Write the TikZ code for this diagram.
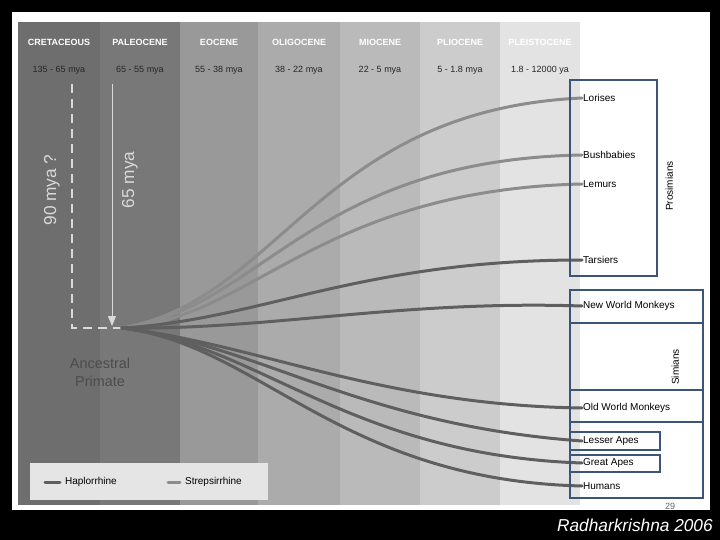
\documentclass[tikz,border=0pt]{standalone}
\usepackage{fontspec}
\setmainfont{Liberation Sans}
\usetikzlibrary{arrows.meta}
\definecolor{boxblue}{RGB}{60,84,120}
\tikzset{every picture/.style={line width=0.75pt}}
\tikzset{
  era/.style={font=\bfseries\small, text=white, inner sep=0.75pt},
  age/.style={font=\small, text=black!85, inner sep=0.75pt},
  haplo/.style={color={rgb, 255:red, 95; green, 95; blue, 95}, line width=3pt, line cap=round},
  strep/.style={color={rgb, 255:red, 140; green, 140; blue, 140}, line width=3pt, line cap=round},
  taxon/.style={anchor=west, font=\normalsize, inner sep=0.75pt},
  group/.style={draw=boxblue, line width=2pt}
}
\begin{document}
\begin{tikzpicture}[x=1pt,y=1pt,yscale=-1,xscale=1]
\useasboundingbox (0,0) rectangle (720,540);
\fill[black] (0,0) rectangle (720,540);
\fill[white] (12,12) rectangle (710,510);

%Bands
\fill[black!57] (18,22) rectangle (100,505);
\fill[black!53] (100,22) rectangle (180,505);
\fill[black!40] (180,22) rectangle (258,505);
\fill[black!33] (258,22) rectangle (340,505);
\fill[black!27] (340,22) rectangle (420,505);
\fill[black!20] (420,22) rectangle (500,505);
\fill[black!11] (500,22) rectangle (580,505);

% Text Node
\node[era] (cre) at (59,42) {CRETACEOUS};
\node[era] (pal) at (140,42) {PALEOCENE};
\node[era] (eoc) at (219,42) {EOCENE};
\node[era] (oli) at (299,42) {OLIGOCENE};
\node[era] (mio) at (380,42) {MIOCENE};
\node[era] (pli) at (460,42) {PLIOCENE};
\node[era] (ple) at (540,42) {PLEISTOCENE};
\node[age] (acre) at (59,70) {135 - 65 mya};
\node[age] (apal) at (140,70) {65 - 55 mya};
\node[age] (aeoc) at (219,70) {55 - 38 mya};
\node[age] (aoli) at (299,70) {38 - 22 mya};
\node[age] (amio) at (380,70) {22 - 5 mya};
\node[age] (apli) at (460,70) {5 - 1.8 mya};
\node[age] (aple) at (540,70) {1.8 - 12000 ya};

%Origin arrows
\coordinate (root) at (122,328);
\coordinate (d0) at (72,84);
\coordinate (d1) at (72,328);
\coordinate (s0) at (112,84);
\draw[black!15, line width=1.5pt, dash pattern=on 9pt off 6pt] (d0) -- (d1) -- (root);
\draw[black!15, line width=1pt, -{Triangle[width=8pt,length=10pt]}] (s0) -- (112,326);
\node[text=black!15, rotate=90, font=\LARGE] (n90) at (52,190) {90 mya ?};
\node[text=black!15, rotate=90, font=\LARGE] (n65) at (130,180) {65 mya};
\node[text=black!70, align=center, font=\Large, inner sep=0.75pt] (anc) at (100,372) {Ancestral\\Primate};

%Taxa
\node[taxon] (lor) at (582,98) {Lorises};
\node[taxon] (bus) at (582,155) {Bushbabies};
\node[taxon] (lem) at (582,184) {Lemurs};
\node[taxon] (tar) at (582,260) {Tarsiers};
\node[taxon] (nwm) at (582,306) {New World Monkeys};
\node[taxon] (owm) at (582,408) {Old World Monkeys};
\node[taxon] (les) at (582,441) {Lesser Apes};
\node[taxon] (gre) at (582,463) {Great Apes};
\node[taxon] (hum) at (582,486) {Humans};

%Branches
\draw[strep] (root) .. controls (280,300) and (320,110) .. (lor.west);
\draw[strep] (root) .. controls (260,310) and (310,160) .. (bus.west);
\draw[strep] (root) .. controls (250,320) and (320,190) .. (lem.west);
\draw[haplo] (root) .. controls (260,320) and (360,260) .. (tar.west);
\draw[haplo] (root) .. controls (270,330) and (400,300) .. (nwm.west);
\draw[haplo] (root) .. controls (260,345) and (380,405) .. (owm.west);
\draw[haplo] (root) .. controls (260,345) and (360,425) .. (les.west);
\draw[haplo] (root) .. controls (260,345) and (350,455) .. (gre.west);
\draw[haplo] (root) .. controls (260,345) and (340,480) .. (hum.west);

%Group boxes
\draw[group] (570,80) rectangle (657,276);
\node[rotate=90, font=\normalsize, anchor=south west, inner sep=0.75pt] (pro) at (674,212) {Prosimians};
\draw[group] (570,290) rectangle (703,498);
\draw[group] (570,323) -- (703,323) (570,390) -- (703,390) (570,422) -- (703,422);
\node[rotate=90, font=\normalsize, anchor=south west, inner sep=0.75pt] (sim) at (680,386) {Simians};
\draw[group] (570,432) rectangle (660,450);
\draw[group] (570,455) rectangle (660,472);

%Legend
\fill[black!10] (30,463) rectangle (268,500);
\draw[haplo] (45,482) -- (60,482);
\node[anchor=west, font=\normalsize, inner sep=0.75pt] (hap) at (64,482) {Haplorrhine};
\draw[strep] (168,482) -- (180,482);
\node[anchor=west, font=\normalsize, inner sep=0.75pt] (str) at (184,482) {Strepsirrhine};

%Footer
\node[text=white, font=\LARGE\itshape, anchor=west, inner sep=0.75pt] (auth) at (556,525) {Radharkrishna 2006};
\node[text=black!60, font=\small, inner sep=0.75pt] (pg) at (670,506) {29};
\end{tikzpicture}
\end{document}
